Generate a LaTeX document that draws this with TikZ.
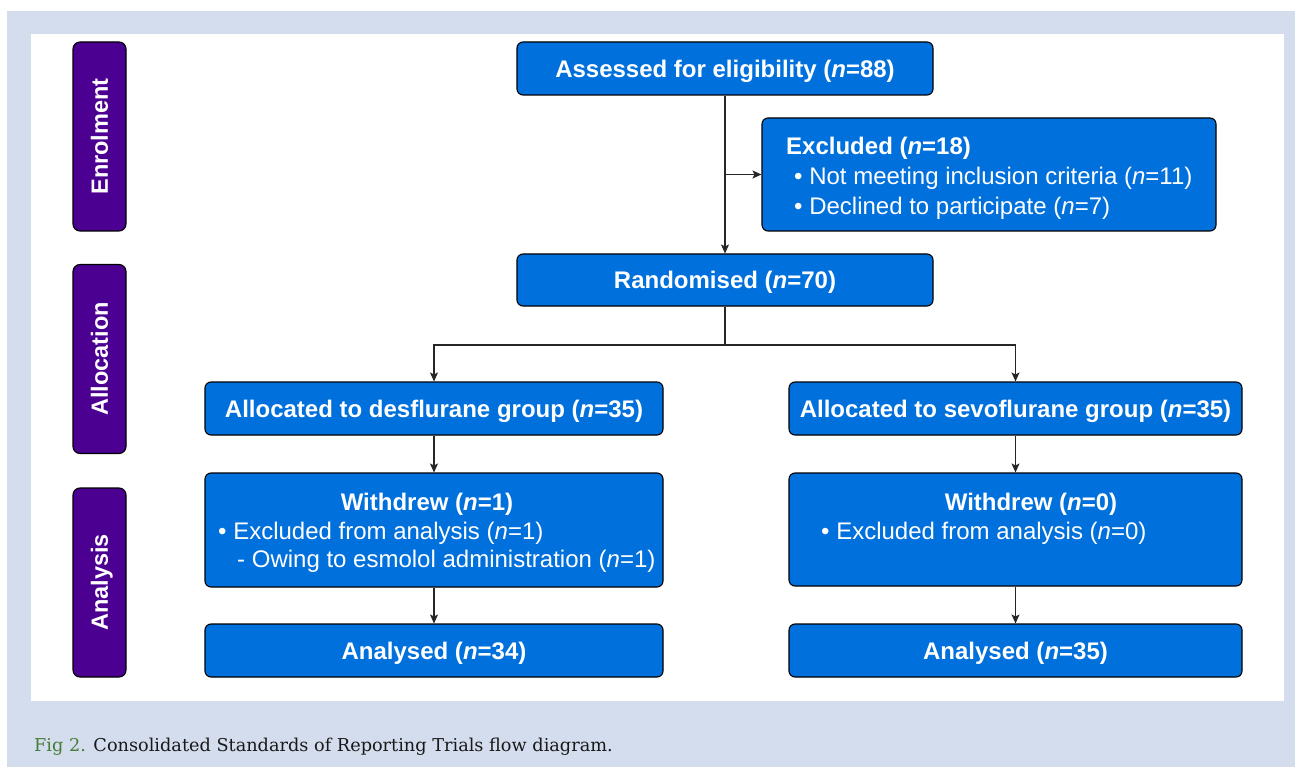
\documentclass[tikz,border=0pt]{standalone}
\usepackage{fontspec}
\setmainfont{Liberation Sans}
\newfontfamily\capfont{DejaVu Serif}
\usetikzlibrary{arrows.meta}
\definecolor{boxblue}{RGB}{0,112,221}
\definecolor{labpurple}{RGB}{75,0,145}
\definecolor{bgblue}{RGB}{212,221,238}
\definecolor{figgreen}{RGB}{70,125,55}
\definecolor{captext}{RGB}{25,25,25}
\tikzset{
  box/.style={draw=black, line width=1.1pt, fill=boxblue, rounded corners=6pt, text=white,
    font=\fontsize{24}{28}\selectfont\bfseries, inner sep=0pt, text height=17.2pt, text depth=0pt},
  labbox/.style={draw=black, line width=1.1pt, fill=labpurple, rounded corners=7pt, text=white,
    font=\fontsize{23.5}{28}\selectfont\bfseries, inner sep=0pt, rotate=90,
    minimum width=189pt, minimum height=53pt, text height=16.8pt, text depth=0pt},
  txt/.style={text=white, font=\fontsize{24}{28}\selectfont, inner sep=0pt, anchor=west,
    text height=17.2pt, text depth=0pt},
  hd/.style={txt, font=\fontsize{24}{28}\selectfont\bfseries},
  conn/.style={draw=black!85, line width=1.1pt},
  arr/.style={conn, -{Stealth[length=9pt,width=8pt,inset=2pt]}}
}
\begin{document}
\begin{tikzpicture}[x=1pt,y=-1pt]
\path[use as bounding box, fill=white] (0,0) rectangle (1295,767);
\fill[bgblue] (7,11) rectangle (1295,767);
\fill[white] (31,34) rectangle (1284,701);

% stage labels
\node[labbox] (enrol) at (99.5,136.5) {Enrolment};
\node[labbox] (alloc) at (99.5,359) {Allocation};
\node[labbox] (analy) at (99.5,582.5) {Analysis};

% boxes
\node[box, minimum width=416pt, minimum height=53pt] (assess) at (725,68.5) {Assessed for eligibility (\textit{n}=88)};
\node[box, minimum width=454pt, minimum height=113pt] (excl) at (989,174.5) {};
\node[box, minimum width=416pt, minimum height=52pt] (rand) at (725,280) {Randomised (\textit{n}=70)};
\node[box, minimum width=458pt, minimum height=53pt] (des) at (434,408.5) {Allocated to desflurane group (\textit{n}=35)};
\node[box, minimum width=453pt, minimum height=53pt] (sevo) at (1015.5,408.5) {Allocated to sevoflurane group (\textit{n}=35)};
\node[box, minimum width=458pt, minimum height=114pt] (wd1) at (434,530) {};
\node[box, minimum width=453pt, minimum height=113pt] (wd2) at (1015.5,529.5) {};
\node[box, minimum width=458pt, minimum height=53pt] (an1) at (434,650.5) {Analysed (\textit{n}=34)};
\node[box, minimum width=453pt, minimum height=53pt] (an2) at (1015.5,650.5) {Analysed (\textit{n}=35)};

% texts in multi-line boxes
\node[hd] (exclh) at (786,145.5) {Excluded (\textit{n}=18)};
\node[txt] (excl1) at (794,175.5) {• Not meeting inclusion criteria (\textit{n}=11)};
\node[txt] (excl2) at (794,205.5) {• Declined to participate (\textit{n}=7)};

\node[hd, anchor=center] (wd1h) at (427,502) {Withdrew (\textit{n}=1)};
\node[txt] (wd1a) at (218,531) {• Excluded from analysis (\textit{n}=1)};
\node[txt] (wd1b) at (237,559) {- Owing to esmolol administration (\textit{n}=1)};

\node[hd, anchor=center] (wd2h) at (1031,502) {Withdrew (\textit{n}=0)};
\node[txt] (wd2a) at (821,531) {• Excluded from analysis (\textit{n}=0)};

% connectors
\draw[arr] (assess.south) -- (rand.north);
\coordinate (j1) at (assess.south |- excl.west);
\draw[arr] (j1) -- (excl.west);
\coordinate (br) at (725,345);
\draw[conn] (rand.south) -- (br);
\draw[arr] (br) -| (des.north);
\draw[arr] (br) -| (sevo.north);
\draw[arr] (des.south) -- (wd1.north);
\draw[arr] (sevo.south) -- (wd2.north);
\draw[arr] (wd1.south) -- (an1.north);
\draw[arr] (wd2.south) -- (an2.north);

% caption
\node[anchor=base west, inner sep=0pt, text=captext, font=\capfont\fontsize{17.7}{21}\selectfont] (cap) at (34,751)
  {\textcolor{figgreen}{Fig 2.} Consolidated Standards of Reporting Trials flow diagram.};
\end{tikzpicture}
\end{document}
